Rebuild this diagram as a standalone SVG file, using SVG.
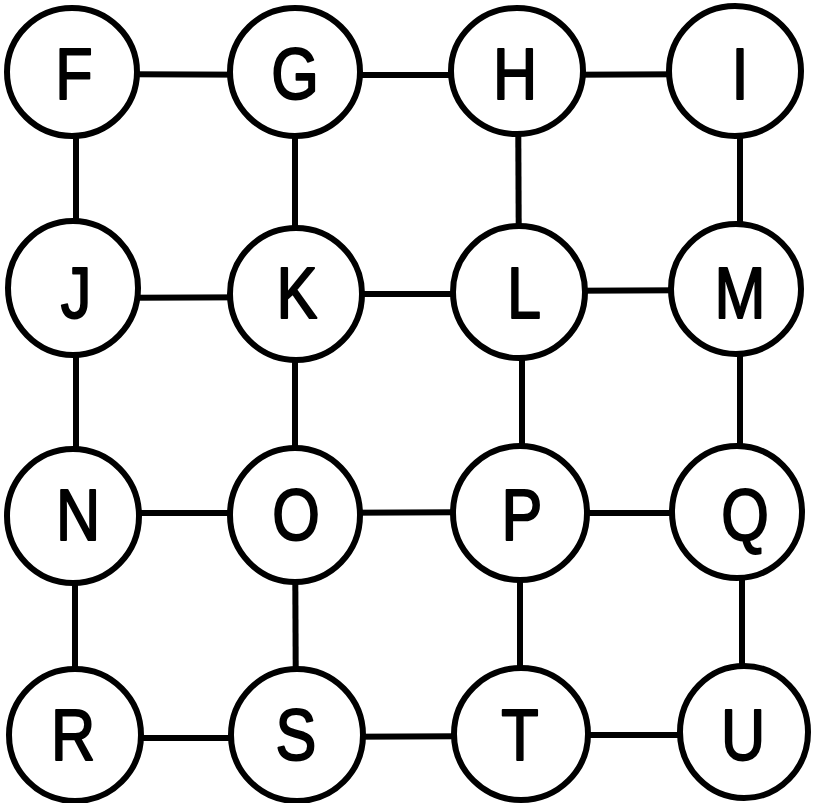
<svg xmlns="http://www.w3.org/2000/svg" width="815" height="803" viewBox="0 0 815 803">
<style>
.c{fill:#fff;stroke:#000;stroke-width:6}
.e{stroke:#000;stroke-width:6;fill:none}
.t{font-family:"Liberation Sans",Arial,sans-serif;font-size:72px;fill:#000;stroke:#000;stroke-width:2;stroke-linejoin:round;text-anchor:middle}
</style>
<rect width="815" height="803" fill="#fff"/>
<g id="connectors">
<line class="e" x1="72" y1="74" x2="295" y2="75"/>
<line class="e" x1="295" y1="75" x2="517" y2="75"/>
<line class="e" x1="517" y1="75" x2="735" y2="74"/>
<line class="e" x1="73" y1="298" x2="296" y2="297"/>
<line class="e" x1="296" y1="294" x2="519" y2="294"/>
<line class="e" x1="519" y1="291" x2="736" y2="290"/>
<line class="e" x1="73" y1="513" x2="295" y2="513"/>
<line class="e" x1="295" y1="513" x2="520" y2="512"/>
<line class="e" x1="520" y1="513" x2="737" y2="513"/>
<line class="e" x1="75" y1="738" x2="297" y2="738"/>
<line class="e" x1="297" y1="737" x2="521" y2="736"/>
<line class="e" x1="521" y1="735" x2="744" y2="735"/>
<line class="e" x1="76" y1="72" x2="76" y2="289"/>
<line class="e" x1="76" y1="289" x2="76" y2="516"/>
<line class="e" x1="75" y1="516" x2="75" y2="735"/>
<line class="e" x1="295" y1="72" x2="295" y2="294"/>
<line class="e" x1="295" y1="294" x2="295" y2="515"/>
<line class="e" x1="295" y1="515" x2="296" y2="735"/>
<line class="e" x1="518" y1="71" x2="519" y2="292"/>
<line class="e" x1="522" y1="292" x2="522" y2="513"/>
<line class="e" x1="520" y1="513" x2="520" y2="734"/>
<line class="e" x1="740" y1="71" x2="740" y2="289"/>
<line class="e" x1="740" y1="289" x2="740" y2="512"/>
<line class="e" x1="742" y1="512" x2="742" y2="732"/>
</g>
<g id="F"><ellipse class="c" cx="72" cy="72" rx="65" ry="64"/><text class="t" transform="translate(74 99) scale(0.85 1)">F</text></g>
<g id="G"><ellipse class="c" cx="295" cy="72" rx="65" ry="64"/><text class="t" transform="translate(295 99) scale(0.85 1)">G</text></g>
<g id="H"><ellipse class="c" cx="517" cy="71" rx="66" ry="63"/><text class="t" transform="translate(515 99) scale(0.85 1)">H</text></g>
<g id="I"><ellipse class="c" cx="735" cy="71" rx="66" ry="65"/><text class="t" transform="translate(740 99) scale(0.85 1)">I</text></g>
<g id="J"><ellipse class="c" cx="73" cy="288" rx="65" ry="67"/><text class="t" transform="translate(76 318) scale(0.85 1)">J</text></g>
<g id="K"><ellipse class="c" cx="296" cy="294" rx="66" ry="66"/><text class="t" transform="translate(297 318) scale(0.85 1)">K</text></g>
<g id="L"><ellipse class="c" cx="519" cy="292" rx="66" ry="66"/><text class="t" transform="translate(524 318) scale(0.85 1)">L</text></g>
<g id="M"><ellipse class="c" cx="736" cy="289" rx="65" ry="65"/><text class="t" transform="translate(740 318) scale(0.85 1)">M</text></g>
<g id="N"><ellipse class="c" cx="73" cy="516" rx="66" ry="67"/><text class="t" transform="translate(78 540) scale(0.85 1)">N</text></g>
<g id="O"><ellipse class="c" cx="295" cy="515" rx="65" ry="67"/><text class="t" transform="translate(296 540) scale(0.85 1)">O</text></g>
<g id="P"><ellipse class="c" cx="520" cy="513" rx="67" ry="67"/><text class="t" transform="translate(522 540) scale(0.85 1)">P</text></g>
<g id="Q"><ellipse class="c" cx="737" cy="512" rx="65" ry="66"/><text class="t" transform="translate(745 540) scale(0.85 1)">Q</text></g>
<g id="R"><ellipse class="c" cx="75" cy="735" rx="66" ry="66"/><text class="t" transform="translate(73 760) scale(0.85 1)">R</text></g>
<g id="S"><ellipse class="c" cx="297" cy="735" rx="66" ry="66"/><text class="t" transform="translate(296 760) scale(0.85 1)">S</text></g>
<g id="T"><ellipse class="c" cx="521" cy="734" rx="67" ry="66"/><text class="t" transform="translate(520 760) scale(0.85 1)">T</text></g>
<g id="U"><ellipse class="c" cx="744" cy="732" rx="64" ry="66"/><text class="t" transform="translate(743 760) scale(0.85 1)">U</text></g>
</svg>
